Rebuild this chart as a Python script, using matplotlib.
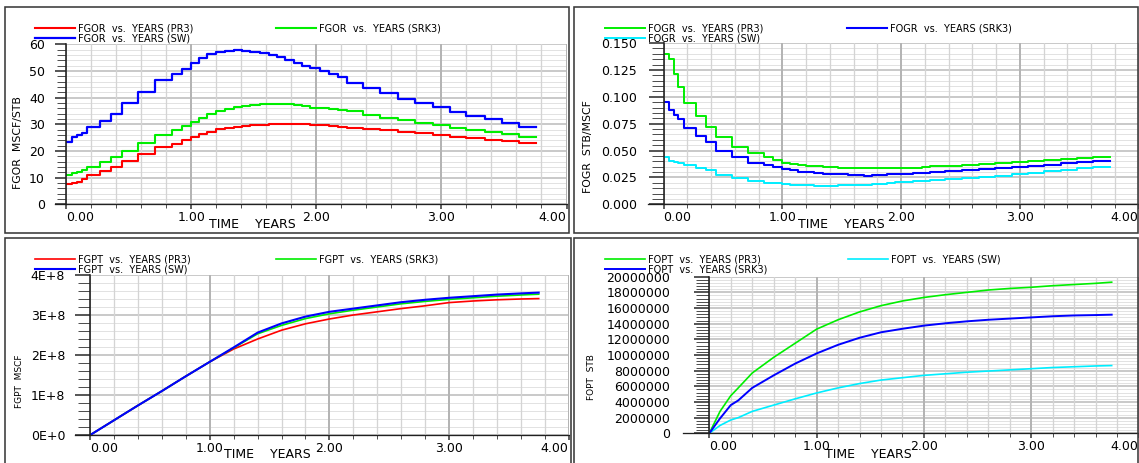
import numpy as np
import matplotlib
matplotlib.use("Agg")
import matplotlib.pyplot as plt
from matplotlib.ticker import MultipleLocator, FixedLocator
from matplotlib.lines import Line2D
from matplotlib.patches import Rectangle

plt.rcParams['font.family'] = ['DejaVu Sans']

# ---------------- data ----------------
# report-step start times (years) for the rate curves (last entry = end of run)
step_years = [0.0, 0.045, 0.085, 0.125, 0.17, 0.27, 0.357, 0.445, 0.579, 0.712,
              0.85, 0.925, 1.0, 1.064, 1.13, 1.2, 1.27, 1.339, 1.405, 1.472,
              1.552, 1.619, 1.685, 1.752, 1.819, 1.885, 1.952, 2.027, 2.099, 2.173,
              2.245, 2.371, 2.51, 2.655, 2.79, 2.935, 3.07, 3.2, 3.345, 3.485,
              3.62, 3.76]

fgor_pr3 = [7.5, 8.1, 8.5, 9.4, 11.0, 12.5, 14.1, 16.4, 18.9, 21.4,
            22.6, 24.1, 25.4, 26.25, 27.25, 28.1, 28.75, 29.1, 29.4, 29.6,
            29.9, 30.0, 30.1, 30.1, 30.1, 30.0, 29.9, 29.75, 29.5, 29.1,
            28.75, 28.25, 27.9, 27.25, 26.6, 25.9, 25.25, 24.75, 24.1, 23.6, 23.0]
fgor_srk3 = [11.0, 11.6, 12.2, 13.0, 14.1, 16.0, 17.6, 20.0, 22.9, 26.0,
             27.9, 29.4, 31.0, 32.25, 33.7, 35.0, 35.6, 36.4, 36.9, 37.1,
             37.5, 37.6, 37.6, 37.5, 37.2, 36.9, 36.25, 36.0, 35.75, 35.4,
             35.0, 33.5, 32.5, 31.6, 30.6, 29.75, 28.5, 27.9, 27.0, 26.25, 25.4]
fgor_sw = [23.5, 25.4, 26.0, 26.9, 28.9, 31.4, 33.9, 38.1, 42.0, 46.6,
           48.75, 50.6, 52.9, 54.75, 56.3, 57.25, 57.6, 57.9, 57.6, 57.25,
           56.6, 55.9, 55.1, 54.1, 53.1, 52.0, 51.0, 50.0, 49.0, 47.9,
           45.6, 43.75, 41.6, 39.6, 38.1, 36.4, 34.75, 33.1, 31.9, 30.4, 29.1]

fogr_pr3 = [0.140, 0.135, 0.121, 0.109, 0.094, 0.082, 0.0723, 0.063, 0.0537, 0.0475,
            0.0444, 0.0412, 0.0388, 0.0372, 0.0362, 0.0357, 0.0352, 0.0350, 0.0345, 0.0342,
            0.0340, 0.0338, 0.0336, 0.0336, 0.0336, 0.0336, 0.0336, 0.0340, 0.0340, 0.0345,
            0.0355, 0.0360, 0.0368, 0.0375, 0.0387, 0.0393, 0.0403, 0.0412, 0.0418, 0.0428, 0.0437]
fogr_srk3 = [0.095, 0.0878, 0.0831, 0.079, 0.0707, 0.0636, 0.0583, 0.050, 0.0437, 0.0388,
             0.0366, 0.0344, 0.0326, 0.0315, 0.0304, 0.0298, 0.0288, 0.0283, 0.0279, 0.0279,
             0.0275, 0.0270, 0.0267, 0.0270, 0.0275, 0.0279, 0.0279, 0.0283, 0.0288, 0.0293,
             0.0304, 0.0313, 0.0323, 0.0325, 0.0335, 0.0344, 0.0357, 0.0366, 0.0381, 0.0390, 0.0403]
fogr_sw = [0.0437, 0.0406, 0.0395, 0.0388, 0.0366, 0.0341, 0.0320, 0.0273, 0.0248, 0.0220,
           0.0202, 0.0195, 0.0186, 0.0180, 0.0177, 0.0175, 0.0172, 0.0172, 0.0172, 0.0175,
           0.0178, 0.0180, 0.0184, 0.0189, 0.0192, 0.0195, 0.0204, 0.0208, 0.0214, 0.0220,
           0.0226, 0.0236, 0.0245, 0.0251, 0.0267, 0.0282, 0.0295, 0.0310, 0.0323, 0.0338, 0.0350]

# cumulative curves
cum_years = [0, 0.1, 0.2, 0.27, 0.4, 0.6, 0.8, 1.0, 1.2, 1.4, 1.6, 1.8, 2.0,
             2.2, 2.4, 2.6, 2.8, 3.0, 3.2, 3.4, 3.6, 3.75]
fgpt_pr3_e8 = [0, 0.185, 0.37, 0.5, 0.74, 1.1, 1.47, 1.83, 2.15, 2.4, 2.62, 2.78, 2.9,
               3.0, 3.08, 3.16, 3.23, 3.31, 3.35, 3.38, 3.40, 3.41]
fgpt_srk3_e8 = [0, 0.185, 0.37, 0.5, 0.74, 1.1, 1.47, 1.83, 2.18, 2.53, 2.74, 2.91, 3.03,
                3.12, 3.2, 3.28, 3.34, 3.39, 3.43, 3.47, 3.5, 3.52]
fgpt_sw_e8 = [0, 0.185, 0.37, 0.5, 0.74, 1.1, 1.47, 1.83, 2.19, 2.56, 2.79, 2.96, 3.08,
              3.16, 3.24, 3.32, 3.38, 3.43, 3.47, 3.51, 3.54, 3.56]
fopt_pr3_e6 = [0, 2.8, 4.8, 5.8, 7.7, 9.7, 11.5, 13.3, 14.5, 15.5, 16.3, 16.9, 17.35,
               17.7, 18.0, 18.3, 18.5, 18.65, 18.85, 19.0, 19.15, 19.3]
fopt_srk3_e6 = [0, 1.9, 3.6, 4.2, 5.8, 7.4, 8.9, 10.2, 11.3, 12.2, 12.9, 13.35, 13.75,
                14.05, 14.3, 14.5, 14.65, 14.8, 14.95, 15.05, 15.1, 15.15]
fopt_sw_e6 = [0, 1.0, 1.7, 2.0, 2.8, 3.6, 4.4, 5.15, 5.8, 6.35, 6.8, 7.1, 7.4,
              7.6, 7.8, 7.95, 8.1, 8.25, 8.4, 8.5, 8.6, 8.65]

x_tick_labels = ['0.00', '1.00', '2.00', '3.00', '4.00']
fgor_ticks = ['0', '10', '20', '30', '40', '50', '60']
fogr_ticks = ['0.000', '0.025', '0.050', '0.075', '0.100', '0.125', '0.150']
fgpt_ticks = ['0E+0', '1E+8', '2E+8', '3E+8', '4E+8']
fopt_ticks = ['0', '2000000', '4000000', '6000000', '8000000', '10000000',
              '12000000', '14000000', '16000000', '18000000', '20000000']

RED, GREEN, BLUE, CYAN = '#ff0000', '#00ee00', '#0000ff', '#00eeff'

# ---------------- layout helpers ----------------
W, H = 1139, 463
PT = 0.72  # points per pixel at 100 dpi
fig = plt.figure(figsize=(W / 100, H / 100), dpi=100)
fig.patch.set_facecolor('white')


def fxy(x, y):
    return (x / W, 1 - y / H)


def make_axes(x0, ytop, x1, ybot):
    return fig.add_axes([x0 / W, 1 - ybot / H, (x1 - x0) / W, (ybot - ytop) / H])


def frame(x0, y0, x1, y1):
    fig.add_artist(Rectangle(fxy(x0, y1), (x1 - x0) / W, (y1 - y0) / H,
                             transform=fig.transFigure, fill=False,
                             ec='#3a3a3a', lw=1.6 * PT))


def style(ax, box, ylabels, ymaj, yminor, ytick_len, yminor_len, ytick_pad,
          xlab_xy, ylabel, ylab_xy, ylab_fs, ext_px):
    x0, ytop, x1, ybot = box
    ax.set_xlim(0, 4)
    ax.set_ylim(0, ymaj * (len(ylabels) - 1))
    ax.set_xticks(range(5))
    ax.set_xticklabels(x_tick_labels)
    ax.xaxis.set_minor_locator(MultipleLocator(0.2))
    ax.yaxis.set_major_locator(FixedLocator([i * ymaj for i in range(len(ylabels))]))
    ax.set_yticklabels(ylabels)
    ax.yaxis.set_minor_locator(MultipleLocator(yminor))
    labs = ax.get_xticklabels()
    labs[0].set_ha('left')
    labs[-1].set_ha('right')
    ax.set_axisbelow(True)
    ax.xaxis.set_zorder(0.6)
    ax.grid(True, which='minor', axis='x', color='#d4d4d4', lw=1.3 * PT)
    ax.grid(True, which='major', axis='x', color='#b4b4b4', lw=2.0 * PT)
    ax.grid(True, which='minor', axis='y', color='#e2e2e2', lw=1.0 * PT)
    ax.grid(True, which='major', axis='y', color='#bdbdbd', lw=1.6 * PT)
    for s in ('top', 'right'):
        ax.spines[s].set_visible(False)
    ax.spines['left'].set_color('#202020')
    ax.spines['left'].set_linewidth(1.6 * PT)
    ax.spines['bottom'].set_color('#202020')
    ax.spines['bottom'].set_linewidth(1.3 * PT)
    ax.tick_params(axis='y', which='major', direction='out', length=ytick_len * PT,
                   width=1.6 * PT, pad=ytick_pad * PT, labelsize=9, color='#303030')
    ax.tick_params(axis='y', which='minor', direction='out', length=yminor_len * PT,
                   width=1.0 * PT, color='#505050')
    ax.tick_params(axis='x', which='major', direction='out', length=5 * PT,
                   width=1.5 * PT, pad=1.5, labelsize=9, color='#303030')
    ax.tick_params(axis='x', which='minor', direction='out', length=3.5 * PT,
                   width=1.0 * PT, color='#505050')
    ax.set_xlabel('TIME    YEARS', fontsize=9)
    ax.xaxis.set_label_coords(*fxy(*xlab_xy), transform=fig.transFigure)
    ax.xaxis.label.set_va('center')
    ax.set_ylabel(ylabel, fontsize=ylab_fs)
    ax.yaxis.set_label_coords(*fxy(*ylab_xy), transform=fig.transFigure)
    ax.yaxis.label.set_va('center')
    ax.yaxis.label.set_ha('center')
    # bottom axis line continues under the y tick marks
    fig.add_artist(Line2D([(x0 - ext_px) / W, x0 / W], [1 - ybot / H] * 2,
                          transform=fig.transFigure, color='#202020', lw=1.3 * PT))


def add_legend(ax, handles, labels, x_col1, x_col2, y_row1, y_row2, fs=7.0):
    fs_px = fs / PT
    common = dict(frameon=False, borderpad=0, borderaxespad=0,
                  handlelength=40 / fs_px, handletextpad=3 / fs_px, fontsize=fs,
                  bbox_transform=fig.transFigure, loc='center left')
    leg1 = ax.legend([handles[0], handles[2]], [labels[0], labels[2]],
                     bbox_to_anchor=fxy(x_col1, (y_row1 + y_row2) / 2),
                     labelspacing=0.0, **common)
    ax.add_artist(leg1)
    ax.legend([handles[1]], [labels[1]], bbox_to_anchor=fxy(x_col2, y_row1), **common)


def ext(vals):
    return np.append(vals, vals[-1])


# ---------------- frames ----------------
frame(5, 7, 569, 233)
frame(574, 7, 1137.5, 233)
frame(5, 238, 571, 475)
frame(574, 238, 1137.5, 475)

# ---------------- panel 1: FGOR ----------------
box1 = (66, 44.3, 566.5, 204.3)
ax1 = make_axes(*box1)
t = np.array(step_years)
l1 = ax1.step(t, ext(fgor_pr3), where='post', color=RED, lw=1.5)[0]
l2 = ax1.step(t, ext(fgor_srk3), where='post', color=GREEN, lw=1.5)[0]
l3 = ax1.step(t, ext(fgor_sw), where='post', color=BLUE, lw=1.6)[0]
style(ax1, box1, fgor_ticks, 10, 2, 11, 9, 10, (252, 225), 'FGOR  MSCF/STB',
      (18, 142.5), 7.8, 11)
add_legend(ax1, [l1, l2, l3], ['FGOR  vs.  YEARS (PR3)', 'FGOR  vs.  YEARS (SRK3)',
                               'FGOR  vs.  YEARS (SW)'], 34.5, 276, 28.3, 38.3)

# ---------------- panel 2: FOGR ----------------
box2 = (663.5, 43.1, 1138.5, 204.3)
ax2 = make_axes(*box2)
g1 = ax2.step(t, ext(fogr_pr3), where='post', color=GREEN, lw=1.4)[0]
g2 = ax2.step(t, ext(fogr_srk3), where='post', color=BLUE, lw=1.5)[0]
g3 = ax2.step(t, ext(fogr_sw), where='post', color=CYAN, lw=1.4)[0]
style(ax2, box2, fogr_ticks, 0.025, 0.005, 15.5, 12, 11, (841, 225), 'FOGR  STB/MSCF',
      (588, 146.7), 7.8, 15.5)
add_legend(ax2, [g1, g2, g3], ['FOGR  vs.  YEARS (PR3)', 'FOGR  vs.  YEARS (SRK3)',
                               'FOGR  vs.  YEARS (SW)'], 604.5, 847, 28.3, 38.3)

# ---------------- panel 3: FGPT ----------------
box3 = (90.2, 275, 568.6, 435)
ax3 = make_axes(*box3)
tc = np.array(cum_years)
k1 = ax3.plot(tc, np.array(fgpt_pr3_e8) * 1e8, color=RED, lw=1.2)[0]
k2 = ax3.plot(tc, np.array(fgpt_srk3_e8) * 1e8, color=GREEN, lw=1.2)[0]
k3 = ax3.plot(tc, np.array(fgpt_sw_e8) * 1e8, color=BLUE, lw=1.5)[0]
style(ax3, box3, fgpt_ticks, 1e8, 0.2e8, 15.5, 12, 9.5, (267, 455), 'FGPT  MSCF',
      (20, 381.7), 6.5, 15.5)
add_legend(ax3, [k1, k2, k3], ['FGPT  vs.  YEARS (PR3)', 'FGPT  vs.  YEARS (SRK3)',
                               'FGPT  vs.  YEARS (SW)'], 34.5, 276, 259, 269)

# ---------------- panel 4: FOPT ----------------
box4 = (709.3, 276.7, 1138.5, 433.3)
ax4 = make_axes(*box4)
m1 = ax4.plot(tc, np.array(fopt_pr3_e6) * 1e6, color=GREEN, lw=1.2)[0]
m3 = ax4.plot(tc, np.array(fopt_sw_e6) * 1e6, color=CYAN, lw=1.2)[0]
m2 = ax4.plot(tc, np.array(fopt_srk3_e6) * 1e6, color=BLUE, lw=1.4)[0]
style(ax4, box4, fopt_ticks, 2e6, 0.4e6, 15, 13, 24, (868, 455), 'FOPT  STB',
      (592, 377), 6.5, 26.5)
add_legend(ax4, [m1, m3, m2], ['FOPT  vs.  YEARS (PR3)', 'FOPT  vs.  YEARS (SW)',
                               'FOPT  vs.  YEARS (SRK3)'], 604.5, 848, 259, 269)

fig.savefig('out.png', dpi=100, facecolor='white')
